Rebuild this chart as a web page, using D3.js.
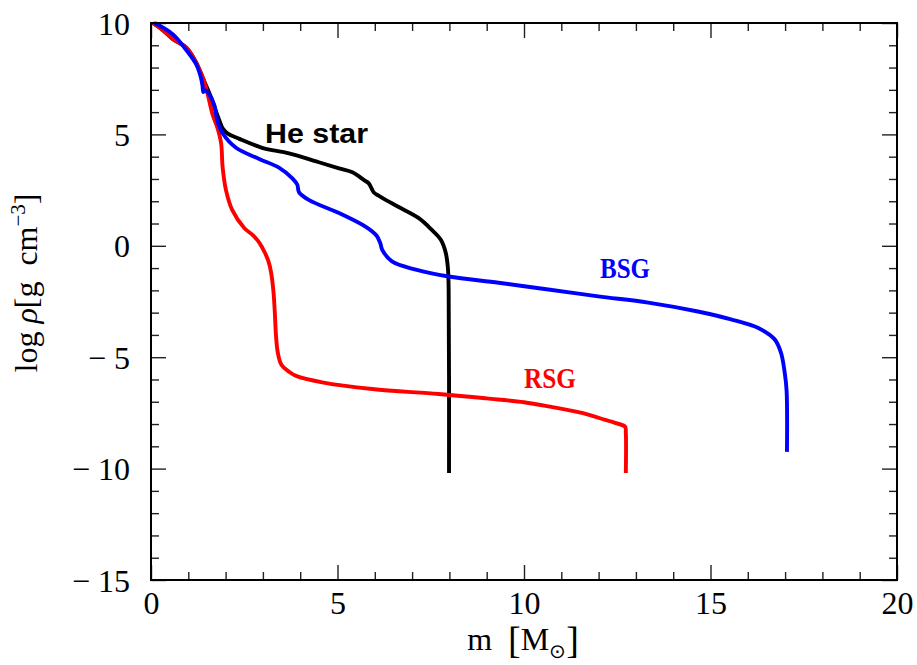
<!DOCTYPE html>
<html>
<head>
<meta charset="utf-8">
<script src="https://cdn.jsdelivr.net/npm/d3@7"></script>
<style>
  html, body { margin: 0; padding: 0; background: #fff; }
  svg { display: block; }
</style>
</head>
<body>
<svg id="chart" width="917" height="665"></svg>
<script>
// Density profiles: log rho versus mass coordinate m for three progenitors
const heMass = [0.05,0.3,0.57,0.94,1.17,1.3,1.45,1.6,1.75,1.85,1.92,2.05,2.37,2.98,3.7,4.5,5.04,5.4,5.71,5.84,5.92,5.98,6.1,6.3,6.64,7.18,7.53,7.77,7.9,7.96,7.98,7.99];
const heRho  = [10,9.7,9.3,8.9,8.35,7.9,7.3,6.7,6.0,5.55,5.27,5.05,4.8,4.4,4.15,3.75,3.48,3.3,2.95,2.8,2.55,2.38,2.25,2.05,1.74,1.24,0.71,0.27,-0.3,-1.0,-2.0,-10.2];

const bsgMass = [0.1,0.58,0.94,1.21,1.33,1.38,1.40,1.43,1.56,1.7,1.78,1.92,2.28,2.9,3.44,3.79,3.92,3.97,4.24,5.04,5.76,6.05,6.15,6.2,6.46,7.1,7.98,9.32,10.65,11.99,13.33,14.66,15.55,16.27,16.72,16.89,16.99,17.04,17.05];
const bsgRho  = [10,9.5,8.8,8.15,7.6,7.2,6.9,7.0,6.8,6.3,5.6,5.05,4.4,3.9,3.5,3.03,2.75,2.4,2.05,1.47,0.85,0.45,0.1,-0.18,-0.7,-1.07,-1.38,-1.66,-1.96,-2.27,-2.55,-2.95,-3.3,-3.68,-4.2,-4.8,-5.7,-6.5,-9.25];

const rsgMass = [0.05,0.3,0.57,0.94,1.17,1.3,1.42,1.52,1.65,1.78,1.88,1.92,2.01,2.18,2.5,2.75,2.92,3.05,3.15,3.22,3.28,3.32,3.35,3.4,3.5,3.7,3.89,4.59,5.93,7.71,9.0,10.0,10.7,11.58,12.04,12.49,12.71,12.73,12.73];
const rsgRho  = [10,9.7,9.3,8.9,8.35,7.9,7.4,6.8,5.9,5.3,4.6,3.53,2.5,1.6,0.8,0.45,0.1,-0.3,-0.7,-1.2,-2.0,-3.0,-4.0,-4.8,-5.35,-5.65,-5.84,-6.13,-6.43,-6.65,-6.85,-7.02,-7.22,-7.51,-7.74,-7.97,-8.12,-8.4,-10.2];

const xMajorTicks = [0,5,10,15,20];
const yMajorTicks = [-15,-10,-5,0,5,10];

const seriesList = [
  { name: "He star", mass: heMass, rho: heRho, color: "#000000" },
  { name: "RSG",     mass: rsgMass, rho: rsgRho, color: "#ff0000" },
  { name: "BSG",     mass: bsgMass, rho: bsgRho, color: "#0000ff" }
];

const svg = d3.select("#chart");
const frameL = 151, frameR = 897, frameT = 23, frameB = 580;

const x = d3.scaleLinear().domain([0, 20]).range([frameL, frameR]);
const y = d3.scaleLinear().domain([-15, 10]).range([frameB, frameT]);

const serif = "'Liberation Serif', 'Times New Roman', serif";
const fmt = d => d < 0 ? "\u2212 " + Math.abs(d) : String(d);

// Clip curves to the frame
svg.append("defs").append("clipPath").attr("id", "plotclip")
  .append("rect").attr("x", frameL).attr("y", frameT - 2)
  .attr("width", frameR - frameL).attr("height", frameB - frameT + 2);

// Curves
const line = d3.line()
  .x(d => x(d[0])).y(d => y(d[1]))
  .curve(d3.curveCatmullRom.alpha(0.5));

const curves = svg.append("g").attr("clip-path", "url(#plotclip)");
seriesList.forEach(s => {
  const pts = s.mass.map((m, i) => [m, s.rho[i]]);
  curves.append("path")
    .datum(pts)
    .attr("d", line)
    .attr("fill", "none")
    .attr("stroke", s.color)
    .attr("stroke-width", 3.9)
    .attr("stroke-linejoin", "round");
});

// Ticks (inward on all four sides)
const xMinor = d3.range(0, 21, 1).filter(v => v % 5 !== 0);
const yMinor = d3.range(-15, 11, 1).filter(v => v % 5 !== 0);
const tickStyle = g => {
  g.select(".domain").remove();
  g.selectAll(".tick line").attr("stroke", "#222").attr("stroke-width", 1.4);
};

function addAxis(axisFn, scale, vals, size, tx, ty, labels) {
  const ax = axisFn(scale).tickValues(vals).tickSize(-size)
    .tickFormat(labels ? fmt : "");
  return svg.append("g").attr("transform", `translate(${tx},${ty})`).call(ax).call(tickStyle);
}

// bottom
const gxb = addAxis(d3.axisBottom, x, xMajorTicks, 15, 0, frameB, true);
addAxis(d3.axisBottom, x, xMinor, 8, 0, frameB, false);
// top
addAxis(d3.axisTop, x, xMajorTicks, 15, 0, frameT, false);
addAxis(d3.axisTop, x, xMinor, 8, 0, frameT, false);
// left
const gyl = addAxis(d3.axisLeft, y, yMajorTicks, 15, frameL, 0, true);
addAxis(d3.axisLeft, y, yMinor, 8, frameL, 0, false);
// right
addAxis(d3.axisRight, y, yMajorTicks, 15, frameR, 0, false);
addAxis(d3.axisRight, y, yMinor, 8, frameR, 0, false);

gxb.selectAll(".tick text")
  .attr("y", 34).attr("dy", 0)
  .attr("font-family", serif).attr("font-size", 32).attr("fill", "#000");

gyl.selectAll(".tick text")
  .attr("x", -21).attr("dy", 11)
  .attr("font-family", serif).attr("font-size", 32).attr("fill", "#000")
  .attr("text-anchor", "end");

// Frame
svg.append("rect")
  .attr("x", frameL).attr("y", frameT)
  .attr("width", frameR - frameL).attr("height", frameB - frameT)
  .attr("fill", "none").attr("stroke", "#000").attr("stroke-width", 2);

// X axis title: m [M_sun]
const xt = svg.append("text")
  .attr("x", 523).attr("y", 650)
  .attr("text-anchor", "middle")
  .attr("font-family", serif).attr("font-size", 32).attr("fill", "#000");
xt.append("tspan").text("m\u2002");
xt.append("tspan").attr("font-size", 38).attr("dy", 3).text("[");
xt.append("tspan").attr("dy", -3).text("M");
xt.append("tspan").attr("font-size", 20).attr("dy", 8).text("\u2299");
xt.append("tspan").attr("font-size", 38).attr("dy", -5).text("]");

// Y axis title: log rho [g cm^-3]
const yt = svg.append("text")
  .attr("transform", "translate(37,283) rotate(-90)")
  .attr("text-anchor", "middle")
  .attr("font-family", serif).attr("font-size", 32).attr("fill", "#000");
yt.append("tspan").text("log ");
yt.append("tspan").attr("font-style", "italic").text("\u03c1");
yt.append("tspan").text("[g\u2002cm");
yt.append("tspan").attr("font-size", 21).attr("dy", -12).text("\u22123");
yt.append("tspan").attr("dy", 12).text("]");

// Curve labels
svg.append("text")
  .attr("x", 265).attr("y", 143)
  .attr("font-family", "'Liberation Sans', Arial, sans-serif")
  .attr("font-weight", "bold").attr("font-size", 28)
  .attr("textLength", 103).attr("lengthAdjust", "spacingAndGlyphs")
  .attr("fill", "#000").text("He star");

svg.append("text")
  .attr("x", 600).attr("y", 278)
  .attr("font-family", serif)
  .attr("font-weight", "bold").attr("font-size", 29)
  .attr("textLength", 50).attr("lengthAdjust", "spacingAndGlyphs")
  .attr("fill", "#0000ff").text("BSG");

svg.append("text")
  .attr("x", 524).attr("y", 388)
  .attr("font-family", serif)
  .attr("font-weight", "bold").attr("font-size", 29)
  .attr("textLength", 52).attr("lengthAdjust", "spacingAndGlyphs")
  .attr("fill", "#ff0000").text("RSG");
</script>
</body>
</html>
